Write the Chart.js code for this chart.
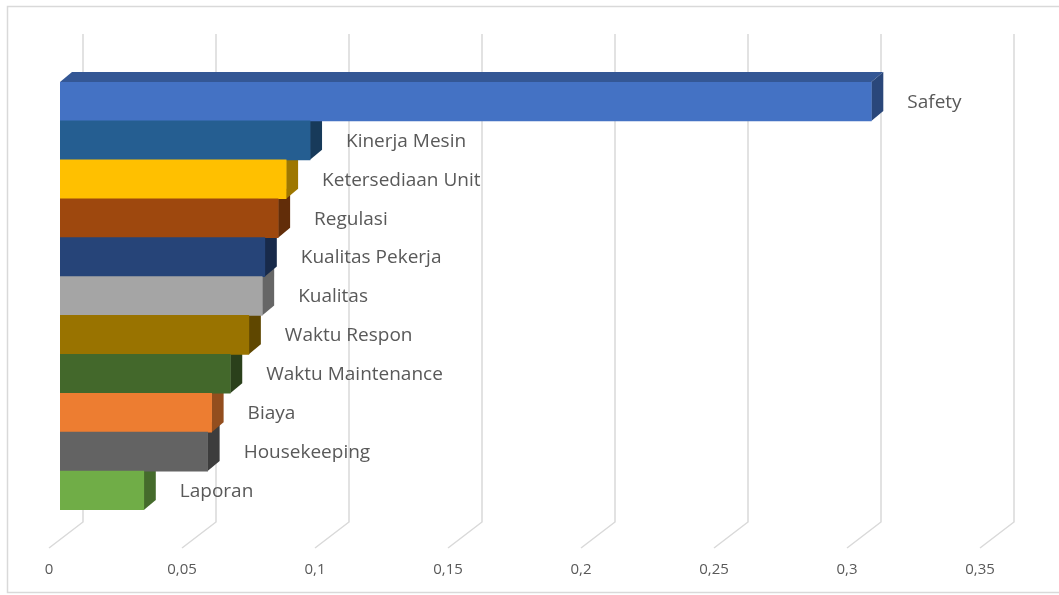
<!DOCTYPE html>
<html>
<head>
<meta charset="utf-8">
<script src="https://cdn.jsdelivr.net/npm/chart.js@4"></script>
<style>
  html, body { margin: 0; padding: 0; background: #fff; }
  #wrap { position: relative; width: 1059px; height: 595px; }
</style>
</head>
<body>
<div id="wrap"><canvas id="chart"></canvas></div>
<script>
// kriteria dan bobotnya
const categories = ["Safety", "Kinerja Mesin", "Ketersediaan Unit", "Regulasi", "Kualitas Pekerja",
    "Kualitas", "Waktu Respon", "Waktu Maintenance", "Biaya", "Housekeeping", "Laporan"];
const weights = [0.305, 0.094, 0.085, 0.082, 0.077, 0.076, 0.071, 0.064, 0.057, 0.0555, 0.0315];
const barColors = ["#4472C4", "#255E91", "#FFC000", "#9E480E", "#264478", "#A5A5A5",
    "#997300", "#43682B", "#ED7D31", "#636363", "#70AD47"];
const tickValues = [0, 0.05, 0.1, 0.15, 0.2, 0.25, 0.3, 0.35];
const tickLabels = ["0", "0,05", "0,1", "0,15", "0,2", "0,25", "0,3", "0,35"];

// kedalaman batang 3D (geser ke kanan-atas)
const DEPTH_X = 12, DEPTH_Y = -10;

function shade(hex, f) {
    const n = parseInt(hex.slice(1), 16);
    const r = Math.round(((n >> 16) & 255) * f);
    const g = Math.round(((n >> 8) & 255) * f);
    const b = Math.round((n & 255) * f);
    return `rgb(${r},${g},${b})`;
}

function poly(ctx, pts, color) {
    ctx.beginPath();
    ctx.moveTo(pts[0][0], pts[0][1]);
    for (let i = 1; i < pts.length; i++) ctx.lineTo(pts[i][0], pts[i][1]);
    ctx.closePath();
    ctx.fillStyle = color;
    ctx.fill();
}

// dinding belakang, lantai, label sumbu, sisi atas & samping batang
const box3d = {
    id: "box3d",
    beforeDraw(chart) {
        const ctx = chart.ctx;
        ctx.save();
        ctx.strokeStyle = "#d9d9d9";
        ctx.lineWidth = 1.5;
        ctx.strokeRect(7.5, 6.5, 1060, 586);
        ctx.restore();
    },
    beforeDatasetsDraw(chart) {
        const ctx = chart.ctx;
        const xs = chart.scales.x;
        const area = chart.chartArea;
        ctx.save();
        ctx.strokeStyle = "#d9d9d9";
        ctx.lineWidth = 1.5;
        tickValues.forEach((v, i) => {
            const px = xs.getPixelForValue(v);
            ctx.beginPath();
            ctx.moveTo(px + 23, area.top - 48);
            ctx.lineTo(px + 23, area.bottom + 12);
            ctx.lineTo(px - 11, area.bottom + 38);
            ctx.stroke();
            ctx.fillStyle = "#595959";
            ctx.font = "15px 'Open Sans'";
            ctx.textAlign = "center";
            ctx.textBaseline = "middle";
            ctx.fillText(tickLabels[i], px - 11, area.bottom + 60);
        });

        const bars = chart.getDatasetMeta(0).data;
        for (let i = bars.length - 1; i >= 0; i--) {
            const { x, y, base, height } = bars[i].getProps(["x", "y", "base", "height"], true);
            const top = y - height / 2, bot = y + height / 2;
            const c = barColors[i];
            poly(ctx, [[base, top], [x, top], [x + DEPTH_X, top + DEPTH_Y], [base + DEPTH_X, top + DEPTH_Y]], shade(c, 0.76));
            poly(ctx, [[x, top], [x + DEPTH_X, top + DEPTH_Y], [x + DEPTH_X, bot + DEPTH_Y], [x, bot]], shade(c, 0.62));
        }
        ctx.restore();
    },
    afterDatasetsDraw(chart) {
        const ctx = chart.ctx;
        const bars = chart.getDatasetMeta(0).data;
        ctx.save();
        ctx.fillStyle = "#595959";
        ctx.font = "19px 'Open Sans'";
        ctx.textAlign = "left";
        ctx.textBaseline = "middle";
        bars.forEach((bar, i) => {
            const { x, y } = bar.getProps(["x", "y"], true);
            ctx.fillText(categories[i], x + DEPTH_X + 24, y + 1);
        });
        ctx.restore();
    }
};

new Chart(document.querySelector("#chart"), {
    type: "bar",
    data: {
        labels: categories,
        datasets: [{
            data: weights,
            backgroundColor: barColors,
            borderWidth: 0,
            barPercentage: 1,
            categoryPercentage: 1,
        }],
    },
    options: {
        indexAxis: "y",
        responsive: true,
        maintainAspectRatio: false,
        animation: false,
        layout: { padding: { left: 60, right: 68, top: 82, bottom: 85 } },
        scales: {
            x: { display: false, min: 0, max: 0.35 },
            y: { display: false },
        },
        plugins: {
            legend: { display: false },
            tooltip: { enabled: false },
        },
    },
    plugins: [box3d],
});
</script>
</body>
</html>
